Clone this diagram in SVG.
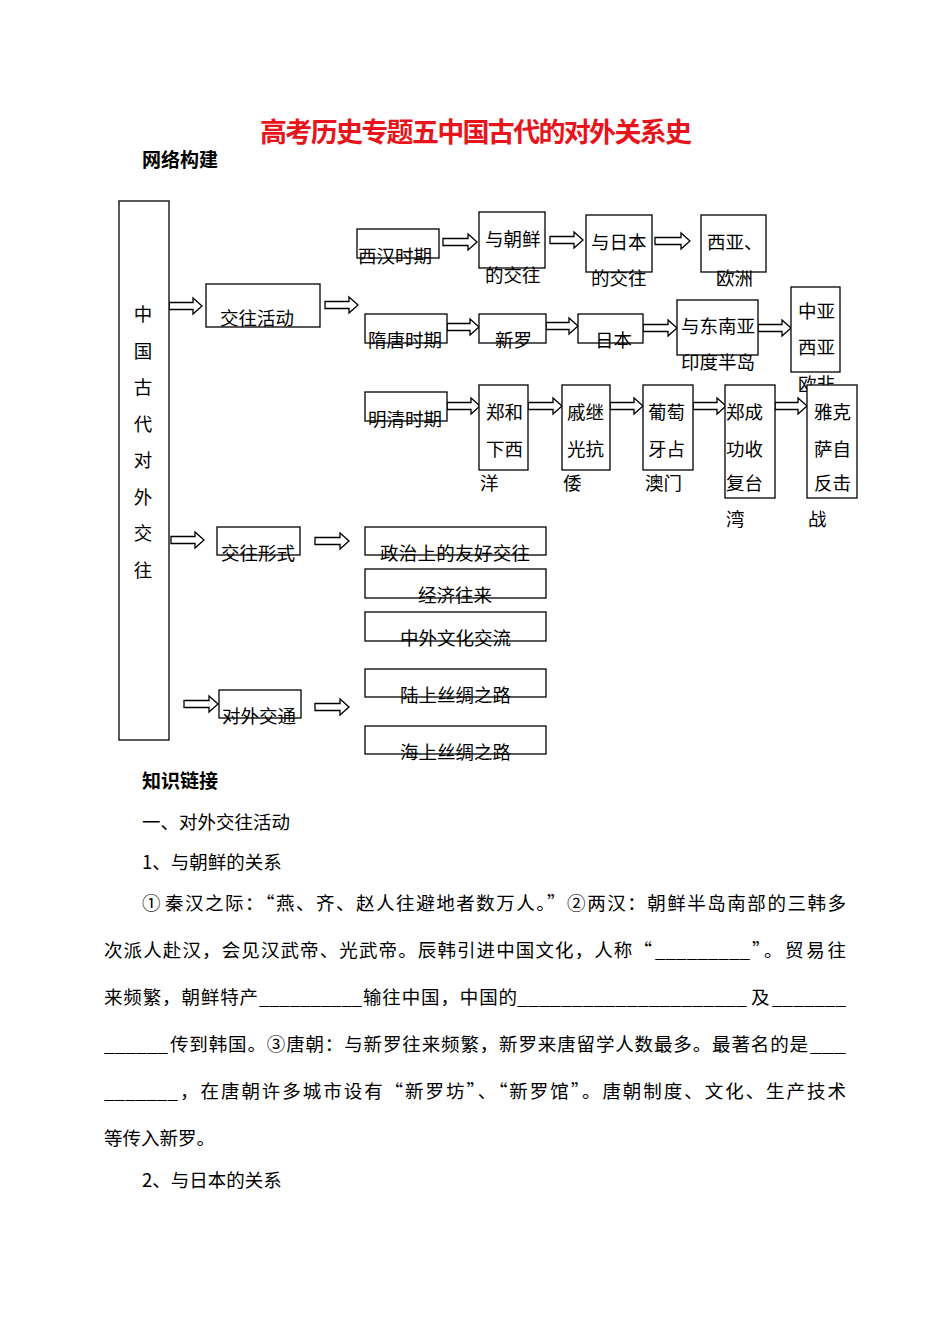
<svg xmlns="http://www.w3.org/2000/svg" width="950" height="1342" viewBox="0 0 950 1342">
<style>
text{font-family:"Noto Sans CJK SC","Noto Sans CJK JP",sans-serif;fill:#000;font-size:18.5px}
.title{fill:#e8141b;font-size:27px;font-weight:bold}
.h{font-weight:bold;font-size:19px}
.box{fill:#fff;stroke:#000;stroke-width:1.3}
.arr{fill:#fff;stroke:#000;stroke-width:1.3;stroke-linejoin:miter}
.vt{text-anchor:middle}
</style>
<rect width="950" height="1342" fill="#fff"/>
<text class="title" x="260" y="142" textLength="432" lengthAdjust="spacing">高考历史专题五中国古代的对外关系史</text>
<text class="h" x="142" y="167">网络构建</text>

<g id="connectors">
<path class="arr" d="M169,302.5H193V298L202,306L193,314V309.5H169Z"/>
<path class="arr" d="M325,301.5H349V297L358,305L349,313V308.5H325Z"/>
<path class="arr" d="M443,238.5H468V234L477,242L468,250V245.5H443Z"/>
<path class="arr" d="M550,236.5H574V232L583,240L574,248V243.5H550Z"/>
<path class="arr" d="M655,237.5H681V233L690,241L681,249V244.5H655Z"/>
<path class="arr" d="M447,323.5H470V319L479,327L470,335V330.5H447Z"/>
<path class="arr" d="M546,322.5H569V318L578,326L569,334V329.5H546Z"/>
<path class="arr" d="M643,324.5H668V320L677,328L668,336V331.5H643Z"/>
<path class="arr" d="M758,324.5H782V320L791,328L782,336V331.5H758Z"/>
<path class="arr" d="M447,402.5H471V398L480,406L471,414V409.5H447Z"/>
<path class="arr" d="M528,402.5H553V398L562,406L553,414V409.5H528Z"/>
<path class="arr" d="M610,402.5H634V398L643,406L634,414V409.5H610Z"/>
<path class="arr" d="M693,402.5H717V398L726,406L717,414V409.5H693Z"/>
<path class="arr" d="M775,402.5H798V398L807,406L798,414V409.5H775Z"/>
<path class="arr" d="M171,536.5H195V532L204,540L195,548V543.5H171Z"/>
<path class="arr" d="M315,537.5H340V533L349,541L340,549V544.5H315Z"/>
<path class="arr" d="M184,700.5H209V696L218,704L209,712V707.5H184Z"/>
<path class="arr" d="M315,703.5H340V699L349,707L340,715V710.5H315Z"/>
</g>

<g id="n-main">
<rect class="box" x="119" y="201" width="50" height="539"/>
<text class="vt" x="143" y="321">中</text>
<text class="vt" x="143" y="357.5">国</text>
<text class="vt" x="143" y="394">古</text>
<text class="vt" x="143" y="430.5">代</text>
<text class="vt" x="143" y="467">对</text>
<text class="vt" x="143" y="503.5">外</text>
<text class="vt" x="143" y="540">交</text>
<text class="vt" x="143" y="576.5">往</text>
</g>
<g id="n-jwhd"><rect class="box" x="206" y="284" width="114" height="43"/><text x="220" y="325">交往活动</text></g>
<g id="n-xh"><rect class="box" x="357" y="229" width="82" height="29"/><text x="358" y="263">西汉时期</text></g>
<g id="n-cx"><rect class="box" x="479" y="212" width="66" height="56"/><text x="485" y="245.5">与朝鲜</text><text x="485" y="282">的交往</text></g>
<g id="n-rb"><rect class="box" x="586" y="215" width="66" height="57"/><text x="591" y="249">与日本</text><text x="591" y="285">的交往</text></g>
<g id="n-xy"><rect class="box" x="701" y="215" width="65" height="57"/><text x="707" y="249">西亚、</text><text x="716" y="285">欧洲</text></g>
<g id="n-st"><rect class="box" x="365" y="314" width="82" height="29"/><text x="368" y="347">隋唐时期</text></g>
<g id="n-xl"><rect class="box" x="479" y="314" width="67" height="29"/><text x="495" y="347">新罗</text></g>
<g id="n-rb2"><rect class="box" x="578" y="314" width="65" height="29"/><text x="595" y="347">日本</text></g>
<g id="n-dny"><rect class="box" x="677" y="300" width="81" height="55"/><text x="681" y="333">与东南亚</text><text x="681" y="369">印度半岛</text></g>
<g id="n-zy"><rect class="box" x="791" y="287" width="49" height="85"/><text x="798" y="318">中亚</text><text x="798" y="354">西亚</text><text x="798" y="391">欧非</text></g>
<g id="n-mq"><rect class="box" x="365" y="392" width="82" height="29"/><text x="368" y="426">明清时期</text></g>
<g id="n-zh"><rect class="box" x="479" y="385" width="49" height="85"/><text x="486" y="419">郑和</text><text x="486" y="456">下西</text><text x="480" y="490">洋</text></g>
<g id="n-qj"><rect class="box" x="562" y="385" width="48" height="85"/><text x="567" y="419">戚继</text><text x="567" y="456">光抗</text><text x="563" y="490">倭</text></g>
<g id="n-pt"><rect class="box" x="643" y="385" width="50" height="85"/><text x="648" y="419">葡萄</text><text x="648" y="456">牙占</text><text x="645" y="490">澳门</text></g>
<g id="n-zc"><rect class="box" x="725" y="385" width="50" height="113"/><text x="726" y="419">郑成</text><text x="726" y="456">功收</text><text x="726" y="490">复台</text><text x="726" y="526">湾</text></g>
<g id="n-yk"><rect class="box" x="807" y="385" width="50" height="113"/><text x="814" y="419">雅克</text><text x="814" y="456">萨自</text><text x="814" y="490">反击</text><text x="808" y="526">战</text></g>
<g id="n-jwxs"><rect class="box" x="217" y="527" width="83" height="28"/><text x="221" y="560">交往形式</text></g>
<g id="n-zz"><rect class="box" x="365" y="527" width="181" height="28"/><text x="380" y="560" textLength="150" lengthAdjust="spacing">政治上的友好交往</text></g>
<g id="n-jj"><rect class="box" x="365" y="569" width="181" height="29"/><text x="418" y="602">经济往来</text></g>
<g id="n-wh"><rect class="box" x="365" y="612" width="181" height="29"/><text x="400" y="645">中外文化交流</text></g>
<g id="n-dwjt"><rect class="box" x="219" y="690" width="82" height="28"/><text x="222" y="723">对外交通</text></g>
<g id="n-ls"><rect class="box" x="365" y="669" width="181" height="28"/><text x="400" y="702">陆上丝绸之路</text></g>
<g id="n-hs"><rect class="box" x="365" y="726" width="181" height="28"/><text x="400" y="759">海上丝绸之路</text></g>

<g id="body">
<text class="h" x="142" y="788">知识链接</text>
<text x="142" y="829">一、对外交往活动</text>
<text x="142" y="869">1、与朝鲜的关系</text>
<text x="142" y="910">①</text>
<text x="165" y="910" textLength="681" lengthAdjust="spacing">秦汉之际：“燕、齐、赵人往避地者数万人。”②两汉：朝鲜半岛南部的三韩多</text>
<text x="104" y="957" textLength="548" lengthAdjust="spacing">次派人赴汉，会见汉武帝、光武帝。辰韩引进中国文化，人称“</text>
<text x="655" y="957" textLength="95" lengthAdjust="spacingAndGlyphs">_________</text>
<text x="752" y="957" textLength="94" lengthAdjust="spacing">”。贸易往</text>
<text x="104" y="1004" textLength="154" lengthAdjust="spacing">来频繁，朝鲜特产</text>
<text x="259" y="1004" textLength="103" lengthAdjust="spacingAndGlyphs">__________</text>
<text x="363" y="1004" textLength="154" lengthAdjust="spacing">输往中国，中国的</text>
<text x="517" y="1004" textLength="230" lengthAdjust="spacingAndGlyphs">_____________________</text>
<text x="751" y="1004">及</text>
<text x="772" y="1004" textLength="74" lengthAdjust="spacingAndGlyphs">_______</text>
<text x="104" y="1051" textLength="64" lengthAdjust="spacingAndGlyphs">______</text>
<text x="170" y="1051" textLength="638" lengthAdjust="spacing">传到韩国。③唐朝：与新罗往来频繁，新罗来唐留学人数最多。最著名的是</text>
<text x="810" y="1051" textLength="36" lengthAdjust="spacingAndGlyphs">___</text>
<text x="104" y="1098" textLength="74" lengthAdjust="spacingAndGlyphs">_______</text>
<text x="180" y="1098" textLength="666" lengthAdjust="spacing">，在唐朝许多城市设有“新罗坊”、“新罗馆”。唐朝制度、文化、生产技术</text>
<text x="104" y="1145">等传入新罗。</text>
<text x="142" y="1187">2、与日本的关系</text>
</g>
</svg>
